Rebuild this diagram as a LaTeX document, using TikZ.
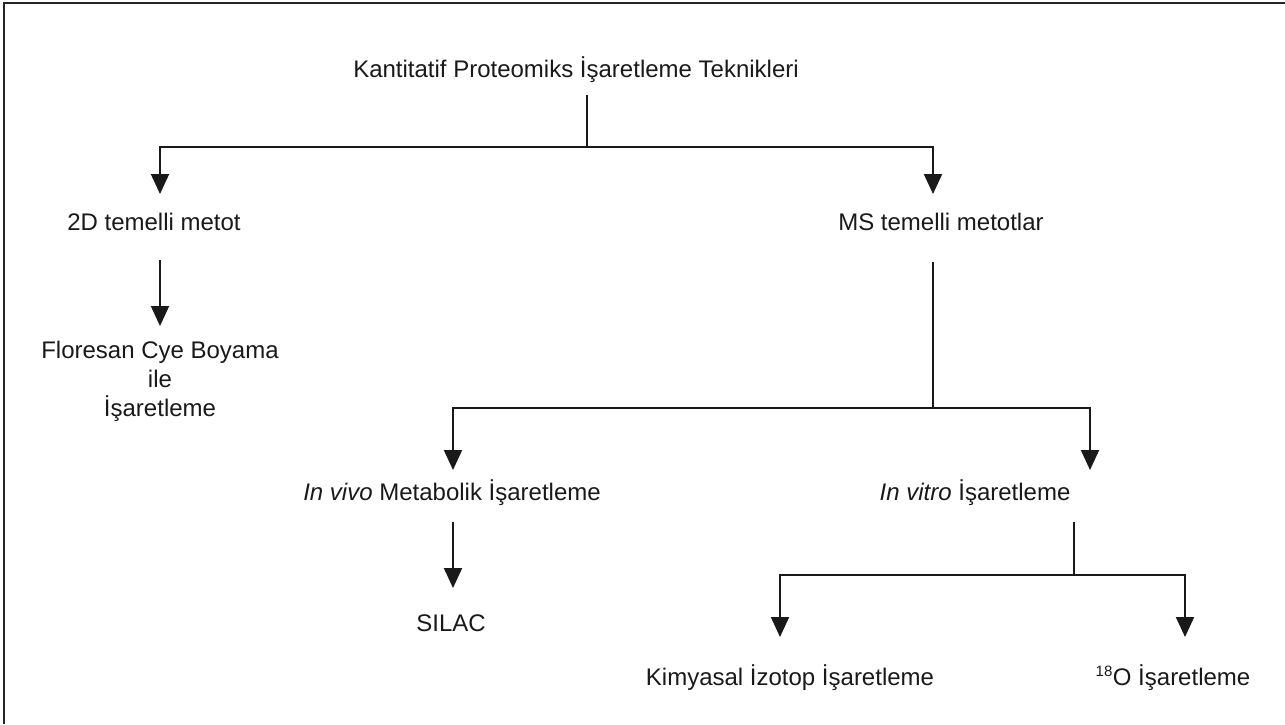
\documentclass[tikz,border=0pt]{standalone}
\usepackage{fontspec}
\setmainfont{Liberation Sans}
\usetikzlibrary{arrows.meta}
\tikzset{
  lbl/.style={font=\fontsize{24}{30}\selectfont, inner sep=0pt, align=center, text=black!90},
  ln/.style={line width=2pt, black!90},
  arr/.style={ln, -{Triangle[width=18pt,length=20pt]}},
}
\begin{document}
\begin{tikzpicture}[x=1pt,y=-1pt]
\useasboundingbox (0,0) rectangle (1285,724);
\draw[line width=2pt, black!85] (4,724) -- (4,3) -- (1285,3);

\node[lbl] (t) at (576,70) {Kantitatif Proteomiks İşaretleme Teknikleri};
\node[lbl] (n2d) at (154,222) {2D temelli metot};
\node[lbl] (ms) at (941,222) {MS temelli metotlar};
\node[lbl, text depth=0pt] (flo) at (160,379) {Floresan Cye Boyama\\[-1pt]ile\\[-1pt]İşaretleme};
\node[lbl] (viv) at (452,493) {\textit{In vivo} Metabolik İşaretleme};
\node[lbl] (vit) at (975,493) {\textit{In vitro} İşaretleme};
\node[lbl] (sil) at (451,623) {SILAC};
\node[lbl] (kim) at (790,678) {Kimyasal İzotop İşaretleme};
\node[lbl] (o18) at (1173,678) {\textsuperscript{\fontsize{15}{15}\selectfont 18}O İşaretleme};

% level 1
\coordinate (j1) at (587,147);
\coordinate (a2d) at (160,194);
\coordinate (ams) at (933,194);
\draw[ln] (j1 |- 0,95) -- (j1);
\draw[arr] (j1) -| (a2d);
\draw[arr] (j1) -| (ams);

% 2D branch
\coordinate (s2d) at (160,260);
\coordinate (aflo) at (160,326);
\draw[arr] (s2d) -- (aflo);

% MS branch
\coordinate (sms) at (933,262);
\coordinate (j2) at (933,408);
\coordinate (aviv) at (453,470);
\coordinate (avit) at (1090,470);
\draw[ln] (sms) -- (j2);
\draw[arr] (j2) -| (aviv);
\draw[arr] (j2) -| (avit);

% in vivo
\coordinate (sviv) at (453,522);
\coordinate (asil) at (453,588);
\draw[arr] (sviv) -- (asil);

% in vitro
\coordinate (svit) at (1074,522);
\coordinate (j3) at (1074,575);
\coordinate (akim) at (780,637);
\coordinate (ao18) at (1185,637);
\draw[ln] (svit) -- (j3);
\draw[arr] (j3) -| (akim);
\draw[arr] (j3) -| (ao18);
\end{tikzpicture}
\end{document}
